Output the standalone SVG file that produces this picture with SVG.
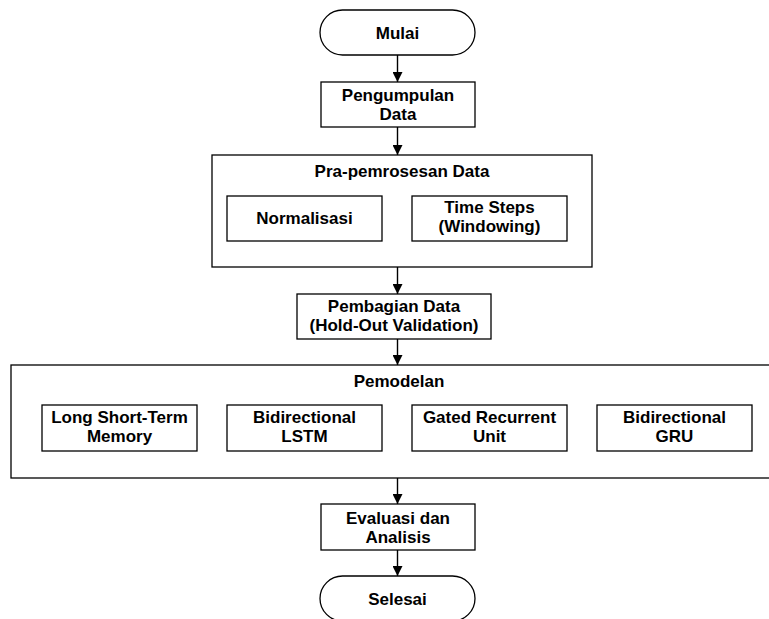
<svg xmlns="http://www.w3.org/2000/svg" width="769" height="619" viewBox="0 0 769 619">
<style>
.b{fill:#fff;stroke:#000;stroke-width:1.3}
.t{font-family:"Liberation Sans",Arial,sans-serif;font-weight:bold;font-size:17px;fill:#000;text-anchor:middle}
.c{stroke:#000;stroke-width:1.4;fill:none;marker-end:url(#ah)}
</style>
<defs>
<marker id="ah" viewBox="0 0 10 10" refX="10" refY="5" markerWidth="10" markerHeight="10" markerUnits="userSpaceOnUse" orient="auto">
<path d="M0,0 L10,5 L0,10 Z" fill="#000"/>
</marker>
</defs>
<rect width="769" height="619" fill="#fff"/>
<g id="connectors">
<line class="c" x1="397.5" y1="55" x2="397.5" y2="82"/>
<line class="c" x1="397.5" y1="127" x2="397.5" y2="155"/>
<line class="c" x1="397.5" y1="267" x2="397.5" y2="294"/>
<line class="c" x1="397.5" y1="339" x2="397.5" y2="365"/>
<line class="c" x1="397.5" y1="478" x2="397.5" y2="504"/>
<line class="c" x1="397.5" y1="550" x2="397.5" y2="576"/>
</g>
<g id="mulai">
<rect class="b" x="320" y="10" width="155" height="45" rx="22.5"/>
<text class="t" x="397.5" y="39">Mulai</text>
</g>
<g id="pengumpulan">
<rect class="b" x="321" y="82" width="154" height="45"/>
<text class="t" x="398" y="101">Pengumpulan</text>
<text class="t" x="398" y="120">Data</text>
</g>
<g id="prapemrosesan">
<rect class="b" x="212" y="155" width="380" height="112"/>
<text class="t" x="402" y="177">Pra-pemrosesan Data</text>
</g>
<g id="normalisasi">
<rect class="b" x="227" y="196" width="155" height="45"/>
<text class="t" x="304.5" y="224">Normalisasi</text>
</g>
<g id="timesteps">
<rect class="b" x="412" y="196" width="155" height="45"/>
<text class="t" x="489.5" y="213">Time Steps</text>
<text class="t" x="489.5" y="232">(Windowing)</text>
</g>
<g id="pembagian">
<rect class="b" x="297" y="294" width="194" height="45"/>
<text class="t" x="394" y="312">Pembagian Data</text>
<text class="t" x="394" y="331">(Hold-Out Validation)</text>
</g>
<g id="pemodelan">
<rect class="b" x="11" y="365" width="770" height="113"/>
<text class="t" x="399" y="387">Pemodelan</text>
</g>
<g id="lstm">
<rect class="b" x="42" y="405" width="155" height="46"/>
<text class="t" x="119.5" y="423">Long Short-Term</text>
<text class="t" x="119.5" y="442">Memory</text>
</g>
<g id="bilstm">
<rect class="b" x="227" y="405" width="155" height="46"/>
<text class="t" x="304.5" y="423">Bidirectional</text>
<text class="t" x="304.5" y="442">LSTM</text>
</g>
<g id="gru">
<rect class="b" x="412" y="405" width="155" height="46"/>
<text class="t" x="489.5" y="423">Gated Recurrent</text>
<text class="t" x="489.5" y="442">Unit</text>
</g>
<g id="bigru">
<rect class="b" x="597" y="405" width="155" height="46"/>
<text class="t" x="674.5" y="423">Bidirectional</text>
<text class="t" x="674.5" y="442">GRU</text>
</g>
<g id="evaluasi">
<rect class="b" x="321" y="504" width="154" height="46"/>
<text class="t" x="398" y="524">Evaluasi dan</text>
<text class="t" x="398" y="543">Analisis</text>
</g>
<g id="selesai">
<rect class="b" x="320" y="576" width="155" height="45" rx="22.5"/>
<text class="t" x="397.5" y="605">Selesai</text>
</g>
</svg>
